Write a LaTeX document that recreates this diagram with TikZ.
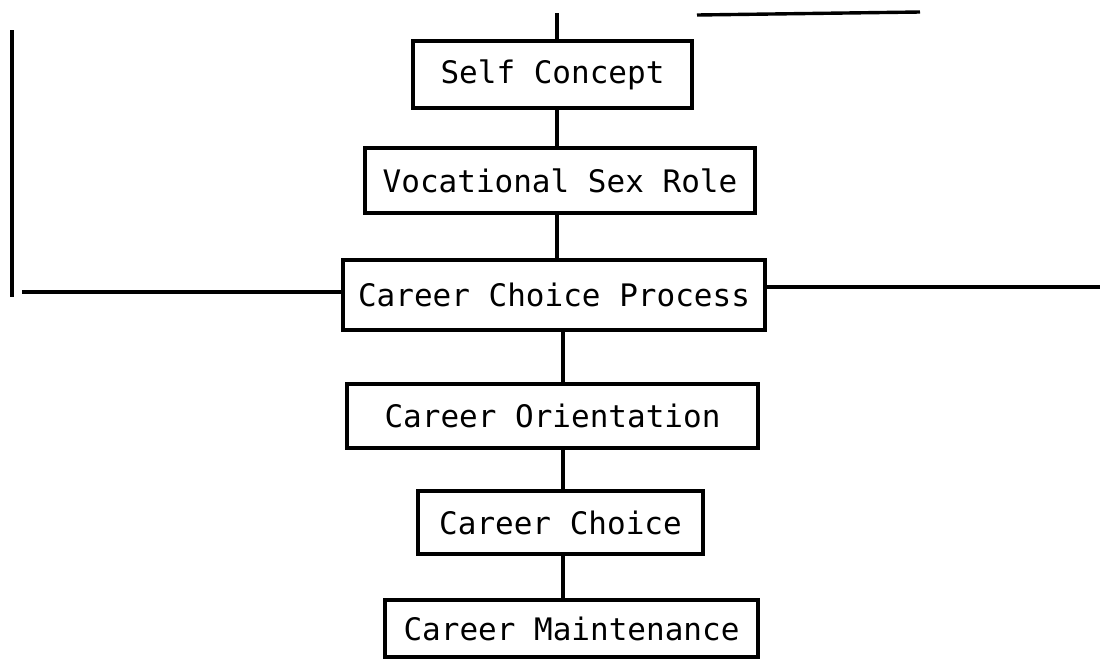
\documentclass[tikz,border=0pt]{standalone}
\usepackage{fontspec}
\setmonofont{DejaVu Sans Mono}
\usepackage{tikz}
\usetikzlibrary{calc}
\tikzset{box/.style={draw, line width=1.9pt, inner sep=0pt,
  font=\ttfamily\fontsize{15.5}{18}\selectfont}}
\tikzset{link/.style={line width=1.7pt}}

\begin{document}
\begin{tikzpicture}[x=0.5pt, y=-0.5pt]
	\useasboundingbox (0,0) rectangle (1100,665);

	\node[box, minimum width=139.5pt, minimum height=33.5pt] (self) at (552.5, 74.5) {Self Concept};
	\node[box, minimum width=195pt, minimum height=32.5pt] (voc) at (560, 180.5) {Vocational Sex Role};
	\node[box, minimum width=211pt, minimum height=35pt] (ccp) at (554, 295) {Career Choice Process};
	\node[box, minimum width=205.5pt, minimum height=32pt] (ori) at (552.5, 416) {Career Orientation};
	\node[box, minimum width=142.5pt, minimum height=31.5pt] (cho) at (560.5, 522.5) {Career Choice};
	\node[box, minimum width=186.5pt, minimum height=28.5pt] (mai) at (571.5, 628.5) {Career Maintenance};

	\coordinate (up) at (557, 13);
	\coordinate (dn) at (563, 330);
	\draw[link] (up) -- (up |- self.north);
	\draw[link] (self.south -| up) -- (voc.north -| up);
	\draw[link] (voc.south -| up) -- (ccp.north -| up);
	\draw[link] (ccp.south -| dn) -- (ori.north -| dn);
	\draw[link] (ori.south -| dn) -- (cho.north -| dn);
	\draw[link] (cho.south -| dn) -- (mai.north -| dn);

	\coordinate (lt) at (12, 30);
	\coordinate (lb) at (12, 297);
	\coordinate (lh) at (22, 292);
	\coordinate (rh) at (1100, 287);
	\draw[link] (lt) -- (lb);
	\draw[link] (lh) -- (lh -| ccp.west);
	\draw[link] (rh -| ccp.east) -- (rh);

	\coordinate (ta) at (697, 15);
	\coordinate (tb) at (920, 12);
	\draw[link] (ta) -- (tb);
\end{tikzpicture}
\end{document}
